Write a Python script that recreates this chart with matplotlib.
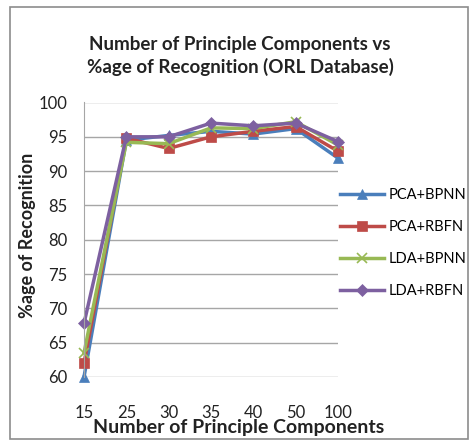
import matplotlib
matplotlib.use("Agg")
import matplotlib.pyplot as plt
from matplotlib.patches import Rectangle

# data
components = ["15", "25", "30", "35", "40", "50", "100"]
pca_bpnn = [60.0, 94.5, 95.2, 95.8, 95.4, 96.2, 91.9]
pca_rbfn = [62.0, 94.8, 93.3, 95.0, 95.8, 96.5, 92.9]
lda_bpnn = [63.5, 94.2, 94.0, 96.3, 96.2, 97.2, 93.8]
lda_rbfn = [67.8, 95.0, 95.0, 97.0, 96.6, 97.0, 94.3]

series_names = ["PCA+BPNN", "PCA+RBFN", "LDA+BPNN", "LDA+RBFN"]

plt.rcParams['font.family'] = ['Lato', 'DejaVu Sans']

fig = plt.figure(figsize=(4.75, 4.41), dpi=100)
ax = fig.add_axes([84 / 475, 64 / 441, 254 / 475, 274.5 / 441])

x = list(range(len(components)))
styles = [
    (pca_bpnn, "#4A7EBB", "^", 7.5),
    (pca_rbfn, "#BE4B48", "s", 7),
    (lda_bpnn, "#98B954", "x", 6.5),
    (lda_rbfn, "#7D60A0", "D", 6),
]
for (vals, col, mk, ms), name in zip(styles, series_names):
    ax.plot(x, vals, color=col, marker=mk, markersize=ms, linewidth=2.5,
            markeredgewidth=1.2 if mk == "x" else 0.5, label=name, clip_on=False)

ax.set_xlim(0, len(components) - 1)
ax.set_ylim(60, 100)
ax.set_yticks(range(60, 101, 5))
ax.set_xticks(x)
ax.set_xticklabels(components)
ax.tick_params(axis="both", length=0, labelsize=12, colors="#222222")
ax.tick_params(axis="x", pad=20)
ax.tick_params(axis="y", pad=12)
ax.grid(axis="y", color="#a6a6a6", linewidth=1)
ax.set_axisbelow(True)
for side in ["top", "right", "bottom"]:
    ax.spines[side].set_visible(False)
ax.spines["left"].set_color("#a6a6a6")

fig.text(240 / 475, 1 - 56 / 441,
         "Number of Principle Components vs\n%age of Recognition (ORL Database)",
         ha="center", va="center", fontsize=13.5, fontweight="bold",
         linespacing=1.35, color="#222222")
fig.text(239 / 475, 1 - 427 / 441, "Number of Principle Components",
         ha="center", va="center", fontsize=14, fontweight="bold", color="#222222")
fig.text(28 / 475, 1 - 235 / 441, "%age of Recognition", rotation=90,
         ha="center", va="center", fontsize=13, fontweight="bold", color="#222222")

ax.legend(loc="center left", bbox_to_anchor=(340 / 475, 1 - 243 / 441),
          bbox_transform=fig.transFigure, frameon=False, fontsize=10.5,
          handlelength=3.0, handletextpad=0.3, labelspacing=1.25,
          borderpad=0, borderaxespad=0)

fig.patches.append(Rectangle((10 / 475, 2 / 441), 458 / 475, 432 / 441,
                             transform=fig.transFigure, fill=False,
                             edgecolor="#8c8c8c", linewidth=1.2))

fig.savefig("out.png", dpi=100)
